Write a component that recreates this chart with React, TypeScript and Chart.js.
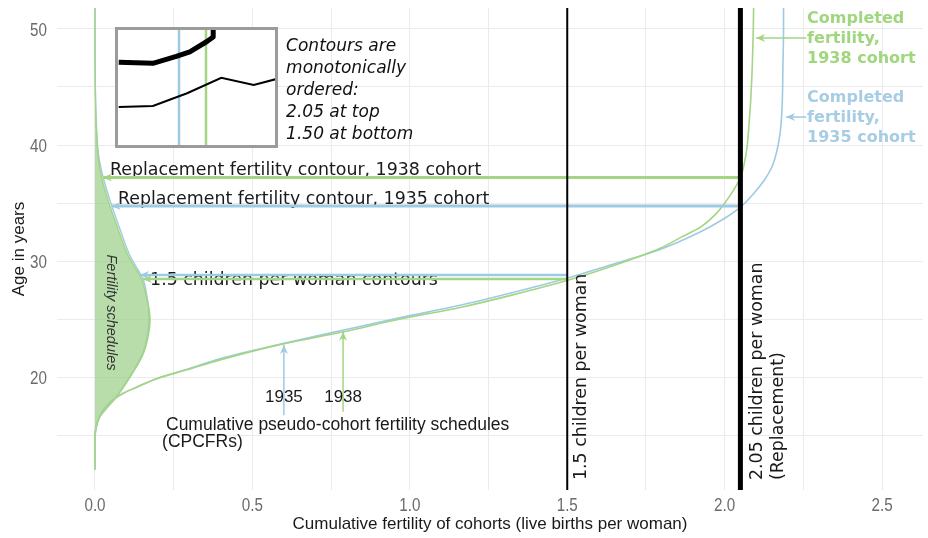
import React, { useEffect, useRef } from 'react';
import { Chart, registerables } from 'chart.js';

Chart.register(...registerables);

// ---------- axis ranges ----------
const X_MIN = -0.1207;
const X_MAX = 2.63;
const Y_MIN = 10.26;
const Y_MAX = 51.81;
const X_LABEL_STEP = 0.5;
const Y_LABEL_STEP = 10;

// ---------- fertility schedules (rate by age) ----------
const schedAges1938 = [14.5, 15.8, 16.6, 17.4, 18.3, 19.5, 20.8, 21.8, 22.7, 23.8, 24.9, 25.8, 26.8, 28.4, 30.4, 32.7, 34.7, 37.2, 39.0, 41.5, 45.0, 50.0, 52.0];
const schedRates1938 = [0, 0.004, 0.016, 0.04, 0.069, 0.1, 0.13, 0.15, 0.162, 0.171, 0.175, 0.172, 0.164, 0.148, 0.106, 0.074, 0.048, 0.021, 0.01, 0.004, 0.001, 0, 0];
const schedAges1935 = [14.5, 15.8, 16.6, 17.4, 18.3, 19.5, 20.8, 21.8, 22.7, 23.8, 24.9, 25.8, 26.8, 28.4, 30.4, 32.7, 34.7, 37.2, 39.0, 41.5, 45.0, 50.0, 52.0];
const schedRates1935 = [0, 0.004, 0.016, 0.04, 0.068, 0.098, 0.128, 0.148, 0.16, 0.168, 0.172, 0.171, 0.166, 0.153, 0.112, 0.08, 0.054, 0.026, 0.012, 0.005, 0.001, 0, 0];

// ---------- cumulative pseudo-cohort fertility (CPCFR) ----------
const cpcfrAges1938 = [12.0, 15.0, 15.8, 16.6, 17.3, 18.0, 18.6, 19.1, 19.9, 20.6, 21.5, 22.75, 23.9, 25.0, 26.0, 27.1, 28.4, 29.5, 31.1, 32.1, 32.9, 34.0, 35.25, 36.2, 37.15, 38.5, 39.8, 42.0, 44.0, 47.0, 50.0, 52.0];
const cpcfrValues1938 = [0, 0, 0.005, 0.015, 0.03, 0.055, 0.09, 0.13, 0.2, 0.29, 0.4, 0.58, 0.79, 0.97, 1.16, 1.33, 1.51, 1.636, 1.795, 1.865, 1.922, 1.97, 2.007, 2.03, 2.05, 2.063, 2.071, 2.078, 2.083, 2.088, 2.091, 2.092];
const cpcfrAges1935 = [12.0, 15.0, 15.8, 16.6, 17.3, 18.0, 18.6, 19.1, 19.9, 20.65, 21.6, 22.9, 24.05, 25.12, 26.18, 27.3, 28.6, 29.65, 31.0, 32.5, 33.6, 34.74, 35.9, 37.0, 38.1, 39.5, 41.0, 43.0, 46.7, 50.0, 52.0];
const cpcfrValues1935 = [0, 0, 0.005, 0.015, 0.03, 0.055, 0.09, 0.13, 0.2, 0.29, 0.4, 0.6, 0.79, 0.97, 1.16, 1.33, 1.51, 1.636, 1.795, 1.922, 1.995, 2.054, 2.095, 2.127, 2.15, 2.166, 2.176, 2.182, 2.185, 2.187, 2.187];

// ---------- contour levels and ages ----------
const replacementLevel = 2.05;
const lowLevel = 1.5;
const contourAgeRep1938 = 37.2;
const contourAgeRep1935 = 34.75;
const contourAgeLow1935 = 28.8;
const contourAgeLow1938 = 28.45;
const contourTipRep1938 = 0.025;
const contourTipRep1935 = 0.053;
const contourTipLow1935 = 0.143;
const contourTipLow1938 = 0.152;

// ---------- label arrows ----------
const cohortArrowX1935 = 0.6;
const cohortArrowAges1935 = [16.7, 22.76];
const cohortArrowX1938 = 0.788;
const cohortArrowAges1938 = [17.0, 23.9];
const completedArrowFromX = 2.259;
const completed1938 = 2.1;
const completed1935 = 2.195;
const completedArrowAge1938 = 49.22;
const completedArrowAge1935 = 42.41;

// ---------- inset (schematic) ----------
const INSET_X_MIN = 1928.22;
const INSET_X_MAX = 1945.67;
const insetThickCohorts = [1928.3, 1932.1, 1934.7, 1936.2, 1938.1, 1938.8, 1938.8];
const insetThickValues = [72, 71, 77, 81, 90, 94, 102];
const insetThinCohorts = [1928.3, 1932.1, 1935.9, 1939.7, 1943.3, 1945.7];
const insetThinValues = [33, 34, 45, 58.5, 52.2, 57.1];
const insetCohort1935 = 1935;
const insetCohort1938 = 1938;

const GREEN = '#a3d583';
const BLUE = '#9fcae3';
const GREEN_TEXT = '#9fd67e';
const BLUE_TEXT = '#a6cde4';
const TICK_COLOR = '#6b6b6b';

const pts = (xs: number[], ys: number[]) => xs.map((x, i) => ({ x, y: ys[i] }));

type Txt = {
  text: string; x: number; y: number; font: string; color: string;
  align?: CanvasTextAlign; baseline?: CanvasTextBaseline; rot?: number; under?: boolean;
};

const SANS = '"DejaVu Sans"';
const ARIAL = '"Liberation Sans"';
const F = 17.4;

const texts: Txt[] = [
  { text: 'Replacement fertility contour, 1938 cohort', x: 0.0476, y: 37.41, font: `${F}px ${SANS}`, color: '#1a1a1a', under: true },
  { text: 'Replacement fertility contour, 1935 cohort', x: 0.073, y: 34.91, font: `${F}px ${SANS}`, color: '#1a1a1a', under: true },
  { text: '1.5 children per woman contours', x: 0.175, y: 27.93, font: `${F}px ${SANS}`, color: '#1a1a1a', under: true },
  { text: 'Contours are', x: 0.607, y: 48.1, font: `italic 17px ${SANS}`, color: '#111' },
  { text: 'monotonically', x: 0.607, y: 46.21, font: `italic 17px ${SANS}`, color: '#111' },
  { text: 'ordered:', x: 0.607, y: 44.31, font: `italic 17px ${SANS}`, color: '#111' },
  { text: '2.05 at top', x: 0.607, y: 42.41, font: `italic 17px ${SANS}`, color: '#111' },
  { text: '1.50 at bottom', x: 0.607, y: 40.52, font: `italic 17px ${SANS}`, color: '#111' },
  { text: 'Fertility schedules', x: 0.052, y: 25.56, font: `italic 14.5px ${ARIAL}`, color: '#333', align: 'center', baseline: 'middle', rot: Math.PI / 2 },
  { text: '1935', x: 0.6, y: 17.84, font: `17px ${ARIAL}`, color: '#1a1a1a', align: 'center' },
  { text: '1938', x: 0.788, y: 17.84, font: `17px ${ARIAL}`, color: '#1a1a1a', align: 'center' },
  { text: 'Cumulative pseudo-cohort fertility schedules', x: 0.2255, y: 15.43, font: `17.5px ${ARIAL}`, color: '#1a1a1a' },
  { text: '(CPCFRs)', x: 0.213, y: 13.97, font: `17.5px ${ARIAL}`, color: '#1a1a1a' },
  { text: '1.5 children per woman', x: 1.5597, y: 11.12, font: `${F}px ${SANS}`, color: '#1a1a1a', rot: -Math.PI / 2 },
  { text: '2.05 children per woman', x: 2.1188, y: 11.12, font: `${F}px ${SANS}`, color: '#1a1a1a', rot: -Math.PI / 2 },
  { text: '(Replacement)', x: 2.1855, y: 11.12, font: `${F}px ${SANS}`, color: '#1a1a1a', rot: -Math.PI / 2 },
  { text: 'Completed', x: 2.2618, y: 50.52, font: `bold 16px ${SANS}`, color: GREEN_TEXT },
  { text: 'fertility,', x: 2.2618, y: 48.79, font: `bold 16px ${SANS}`, color: GREEN_TEXT },
  { text: '1938 cohort', x: 2.2618, y: 47.07, font: `bold 16px ${SANS}`, color: GREEN_TEXT },
  { text: 'Completed', x: 2.2618, y: 43.71, font: `bold 16px ${SANS}`, color: BLUE_TEXT },
  { text: 'fertility,', x: 2.2618, y: 41.98, font: `bold 16px ${SANS}`, color: BLUE_TEXT },
  { text: '1935 cohort', x: 2.2618, y: 40.26, font: `bold 16px ${SANS}`, color: BLUE_TEXT },
];

const isMultiple = (v: number, step: number) => Math.abs(v / step - Math.round(v / step)) < 1e-6;

const drawTexts = (chart: any, under: boolean) => {
  const { ctx, scales } = chart;
  texts.forEach((t) => {
    if (!!t.under !== under) return;
    ctx.save();
    ctx.font = t.font;
    ctx.fillStyle = t.color;
    ctx.textAlign = t.align || 'left';
    ctx.textBaseline = t.baseline || 'alphabetic';
    ctx.translate(scales.x.getPixelForValue(t.x), scales.y.getPixelForValue(t.y));
    if (t.rot) ctx.rotate(t.rot);
    ctx.fillText(t.text, 0, 0);
    ctx.restore();
  });
};

const annotationPlugin = {
  id: 'annotations',
  beforeDatasetsDraw(chart: any) {
    drawTexts(chart, true);
  },
  afterDatasetsDraw(chart: any) {
    const { ctx } = chart;
    chart.data.datasets.forEach((ds: any, i: number) => {
      if (!ds.arrowHead) return;
      const meta = chart.getDatasetMeta(i);
      const n = meta.data.length;
      if (n < 2) return;
      const a = meta.data[n - 2];
      const b = meta.data[n - 1];
      const ang = Math.atan2(b.y - a.y, b.x - a.x);
      const len = 9;
      const hw = 4;
      ctx.save();
      ctx.translate(b.x, b.y);
      ctx.rotate(ang);
      ctx.fillStyle = ds.borderColor;
      ctx.beginPath();
      ctx.moveTo(0, 0);
      ctx.lineTo(-len, -hw);
      ctx.lineTo(-len * 0.7, 0);
      ctx.lineTo(-len, hw);
      ctx.closePath();
      ctx.fill();
      ctx.restore();
    });
    drawTexts(chart, false);
  },
  afterDraw(chart: any) {
    const { ctx, scales, chartArea } = chart;
    const xs = scales.x;
    const ys = scales.y;
    ctx.save();
    ctx.fillStyle = TICK_COLOR;
    ctx.font = `19px ${ARIAL}`;
    ctx.textBaseline = 'alphabetic';
    xs.ticks.forEach((t: any) => {
      if (!isMultiple(t.value, X_LABEL_STEP)) return;
      ctx.save();
      ctx.translate(xs.getPixelForValue(t.value), chartArea.bottom + 21);
      ctx.scale(0.8, 1);
      ctx.textAlign = 'center';
      ctx.fillText(t.value.toFixed(1), 0, 0);
      ctx.restore();
    });
    ys.ticks.forEach((t: any) => {
      if (!isMultiple(t.value, Y_LABEL_STEP)) return;
      ctx.save();
      ctx.translate(chartArea.left - 10, ys.getPixelForValue(t.value) + 7);
      ctx.scale(0.8, 1);
      ctx.textAlign = 'right';
      ctx.fillText(String(Math.round(t.value)), 0, 0);
      ctx.restore();
    });
    ctx.restore();
  },
};

const lineDs = (data: any[], color: string, width: number, extra: any = {}) => ({
  type: 'line',
  data,
  borderColor: color,
  backgroundColor: color,
  borderWidth: width,
  pointRadius: 0,
  tension: 0,
  fill: false,
  ...extra,
});

const smooth = { indexAxis: 'y', cubicInterpolationMode: 'monotone' };

export default function App() {
  const mainRef = useRef<HTMLCanvasElement>(null);
  const insetRef = useRef<HTMLCanvasElement>(null);

  useEffect(() => {
    // earlier entries are drawn on top
    const datasets: any[] = [
      lineDs([{ x: replacementLevel, y: Y_MIN - 1 }, { x: replacementLevel, y: Y_MAX + 1 }], '#000', 5),
      lineDs([{ x: lowLevel, y: Y_MIN - 1 }, { x: lowLevel, y: Y_MAX + 1 }], '#000', 2),
      lineDs([{ x: replacementLevel, y: contourAgeRep1938 }, { x: contourTipRep1938, y: contourAgeRep1938 }], GREEN, 3, { arrowHead: true }),
      lineDs([{ x: replacementLevel, y: contourAgeRep1935 }, { x: contourTipRep1935, y: contourAgeRep1935 }], BLUE, 3, { arrowHead: true }),
      lineDs([{ x: lowLevel, y: contourAgeLow1938 }, { x: contourTipLow1938, y: contourAgeLow1938 }], GREEN, 2.5, { arrowHead: true }),
      lineDs([{ x: lowLevel, y: contourAgeLow1935 }, { x: contourTipLow1935, y: contourAgeLow1935 }], BLUE, 2.5, { arrowHead: true }),
      lineDs([{ x: cohortArrowX1935, y: cohortArrowAges1935[0] }, { x: cohortArrowX1935, y: cohortArrowAges1935[1] }], BLUE, 1.5, { arrowHead: true }),
      lineDs([{ x: cohortArrowX1938, y: cohortArrowAges1938[0] }, { x: cohortArrowX1938, y: cohortArrowAges1938[1] }], GREEN, 1.5, { arrowHead: true }),
      lineDs([{ x: completedArrowFromX, y: completedArrowAge1938 }, { x: completed1938, y: completedArrowAge1938 }], GREEN, 1.5, { arrowHead: true }),
      lineDs([{ x: completedArrowFromX, y: completedArrowAge1935 }, { x: completed1935, y: completedArrowAge1935 }], BLUE, 1.5, { arrowHead: true }),
      lineDs(pts(cpcfrValues1938, cpcfrAges1938), GREEN, 1.6, smooth),
      lineDs(pts(cpcfrValues1935, cpcfrAges1935), BLUE, 1.6, smooth),
      lineDs(pts(schedRates1938, schedAges1938), GREEN, 1.4, {
        ...smooth,
        fill: { value: 0 },
        backgroundColor: 'rgba(150,205,130,0.68)',
      }),
      lineDs(pts(schedRates1935, schedAges1935), BLUE, 1.4, smooth),
    ];

    const main = new Chart(mainRef.current as HTMLCanvasElement, {
      type: 'line',
      data: { datasets },
      options: {
        responsive: false,
        animation: false,
        layout: { padding: { top: 8, right: 5, left: 0, bottom: 0 } },
        plugins: { legend: { display: false }, tooltip: { enabled: false } },
        elements: { point: { radius: 0 } },
        scales: {
          x: {
            type: 'linear',
            min: X_MIN,
            max: X_MAX,
            afterFit: (s: any) => { s.height = 48; },
            grid: { color: '#ebebeb', drawTicks: false },
            border: { display: false },
            ticks: { stepSize: 0.25, includeBounds: false, autoSkip: false, display: false },
            title: {
              display: true,
              text: 'Cumulative fertility of cohorts (live births per woman)',
              color: '#1a1a1a',
              font: { family: 'Liberation Sans', size: 17 },
              padding: { top: 0, bottom: 3 },
            },
          },
          y: {
            type: 'linear',
            min: Y_MIN,
            max: Y_MAX,
            afterFit: (s: any) => { s.width = 57; },
            grid: { color: '#ebebeb', drawTicks: false },
            border: { display: false },
            ticks: { stepSize: 5, includeBounds: false, autoSkip: false, display: false },
            title: {
              display: true,
              text: 'Age in years',
              color: '#1a1a1a',
              font: { family: 'Liberation Sans', size: 17 },
              padding: { top: 9, bottom: 0 },
            },
          },
        },
      } as any,
      plugins: [annotationPlugin],
    } as any);

    const inset = new Chart(insetRef.current as HTMLCanvasElement, {
      type: 'line',
      data: {
        datasets: [
          lineDs(pts(insetThickCohorts, insetThickValues), '#000', 5, { borderJoinStyle: 'round' }),
          lineDs(pts(insetThinCohorts, insetThinValues), '#000', 2),
          lineDs([{ x: insetCohort1935, y: -5 }, { x: insetCohort1935, y: 105 }], BLUE, 2.5),
          lineDs([{ x: insetCohort1938, y: -5 }, { x: insetCohort1938, y: 105 }], GREEN, 2.5),
        ] as any,
      },
      options: {
        responsive: false,
        animation: false,
        layout: { padding: 0 },
        plugins: { legend: { display: false }, tooltip: { enabled: false } },
        scales: {
          x: { type: 'linear', min: INSET_X_MIN, max: INSET_X_MAX, display: false },
          y: { type: 'linear', min: 0, max: 100, display: false },
        },
      } as any,
    } as any);

    return () => {
      main.destroy();
      inset.destroy();
    };
  }, []);

  return (
    <div style={{ position: 'absolute', left: 0, top: 0, width: 928, height: 538, background: '#fff' }}>
      <canvas ref={mainRef} width={928} height={538} style={{ position: 'absolute', left: 0, top: 0 }} />
      <div
        style={{
          position: 'absolute', left: 115, top: 27, width: 163, height: 121,
          border: '3px solid #9b9b9b', boxSizing: 'border-box', background: '#fff',
        }}
      >
        <canvas ref={insetRef} width={157} height={115} style={{ display: 'block' }} />
      </div>
    </div>
  );
}
